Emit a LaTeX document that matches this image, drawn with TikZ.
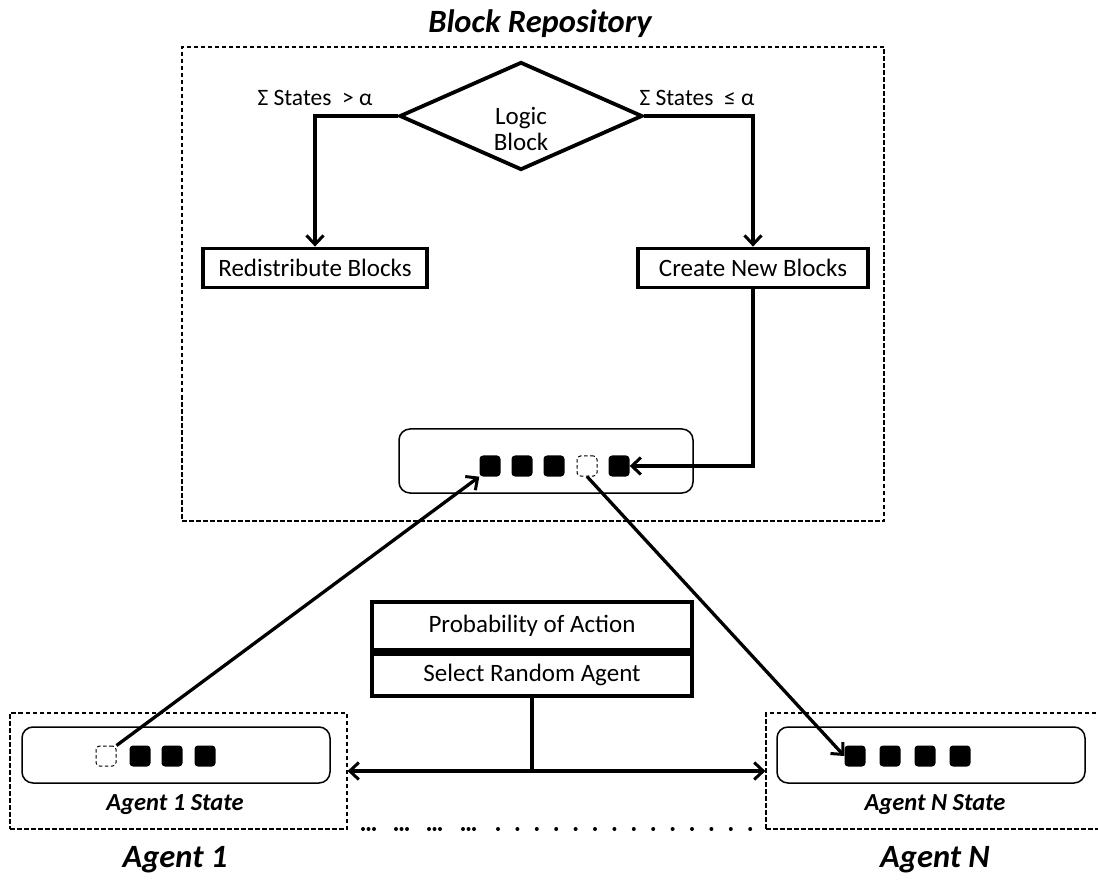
\documentclass[tikz,border=0pt]{standalone}
\usepackage{fontspec}
\setmainfont{Carlito}
\usetikzlibrary{arrows.meta,shapes.geometric}

\tikzset{
  sbarb/.tip={Straight Barb[length=9pt,width=17pt,line width=3pt]},
  region/.style={draw, line width=1.2pt, dash pattern=on 4.5pt off 2.5pt, inner sep=0pt},
  stepbox/.style={draw, line width=3.8pt, inner sep=0pt, font=\fontsize{25}{30}\selectfont},
  holder/.style={draw, line width=1.5pt, rounded corners=11pt, inner sep=0pt},
  blk/.style={fill=black, rounded corners=3.5pt, minimum size=21pt, inner sep=0pt},
  freeblk/.style={draw, line width=1pt, dash pattern=on 3.5pt off 2.5pt, rounded corners=3.5pt, minimum size=20pt, inner sep=0pt},
  conn/.style={line width=3.3pt, -sbarb},
  plain/.style={line width=3.3pt},
  lbl/.style={font=\fontsize{23.5}{28}\selectfont},
  title/.style={font=\bfseries\itshape\fontsize{32.5}{38}\selectfont},
  sublbl/.style={font=\bfseries\itshape\fontsize{24.5}{29}\selectfont},
}

\begin{document}
\begin{tikzpicture}[x=1pt, y=-1pt]
\useasboundingbox (0,0) rectangle (1098,882);

% ---------- block repository ----------
\node[title] (reptitle) at (540,24) {Block Repository};
\node[region, minimum width=702pt, minimum height=474pt] (repo) at (533,284) {};

\node[draw, diamond, line width=3.8pt, minimum width=243pt, minimum height=108pt, inner sep=0pt] (logic) at (521,116) {};
\node[align=center, inner sep=0pt, text depth=0pt, font=\fontsize{25}{26}\selectfont] (logictext) at (521,129) {Logic\\Block};

\node[lbl] (gt) at (315,98) {Σ States\ \ > α};
\node[lbl] (le) at (697,98) {Σ States\ \ ≤ α};

\node[stepbox, minimum width=224pt, minimum height=39pt] (redist) at (315,268) {Redistribute Blocks};
\node[stepbox, minimum width=230pt, minimum height=39pt] (create) at (753,268) {Create New Blocks};

\draw[conn] (logic.west) -| (redist.north);
\draw[conn] (logic.east) -| (create.north);

% pool of blocks
\node[holder, minimum width=294pt, minimum height=64pt] (pool) at (546,461) {};
\node[blk] (p1) at (490,466) {};
\node[blk] (p2) at (522,466) {};
\node[blk] (p3) at (554,466) {};
\node[freeblk] (p4) at (587,466) {};
\node[blk] (p5) at (619,466) {};

\draw[conn] (create.south) |- (p5.east);

% ---------- agents ----------
\node[region, minimum width=337pt, minimum height=116pt] (ag1) at (178.5,771) {};
\node[holder, minimum width=308pt, minimum height=56pt] (ag1hold) at (176,755) {};
\node[freeblk] (a1) at (106,756) {};
\node[blk] (a2) at (140,756) {};
\node[blk] (a3) at (172,756) {};
\node[blk] (a4) at (205,756) {};
\node[sublbl] (ag1state) at (175,805) {Agent 1 State};
\node[title] (ag1name) at (175,860) {Agent 1};

\node[region, minimum width=338pt, minimum height=116pt] (agN) at (935,771) {};
\node[holder, minimum width=308pt, minimum height=56pt] (agNhold) at (931,755) {};
\node[blk] (n1) at (855,756) {};
\node[blk] (n2) at (890,756) {};
\node[blk] (n3) at (925,756) {};
\node[blk] (n4) at (960,756) {};
\node[sublbl] (agNstate) at (935,805) {Agent N State};
\node[title] (agNname) at (935,860) {Agent N};

% dotted run between the agents
\foreach \x in {363,396,429,463}
  \foreach \d in {0,5.5,11}
    \fill (\x+\d,829) circle (2pt);
\foreach \i in {0,...,13}
  \fill (498+19.4*\i,829) circle (2pt);

% ---------- action selection ----------
\node[stepbox, minimum width=320pt, minimum height=48pt] (prob) at (532,626) {Probability of Action};
\node[stepbox, minimum width=320pt, minimum height=42pt, anchor=north] (select) at (prob.south) {Select Random Agent};

\coordinate (fork) at (select.south |- ag1.east);
\draw[plain] (select.south) -- (fork);
\draw[plain, sbarb-sbarb] (ag1.east) -- (agN.west);

% block exchange
\draw[conn] (a1.north east) -- (p1.south west);
\draw[conn] (p4.south) -- (n1.west);
\end{tikzpicture}
\end{document}
